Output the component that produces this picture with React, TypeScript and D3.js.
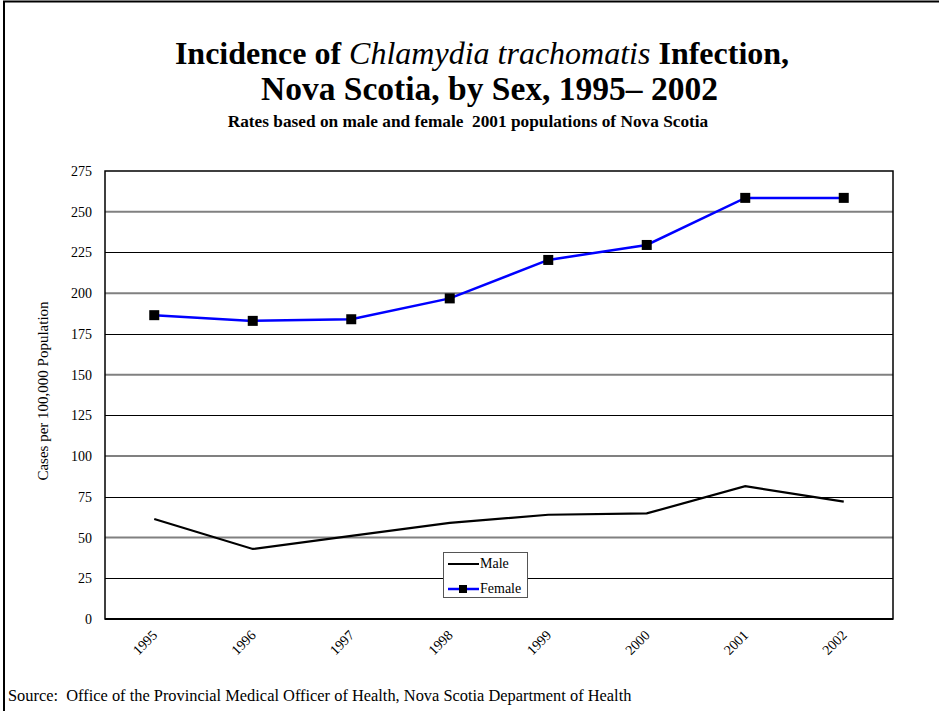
import React from "react";
import * as d3 from "d3";

const years = ["1995", "1996", "1997", "1998", "1999", "2000", "2001", "2002"];
const male = [61.4, 43, 51, 59, 64, 64.8, 81.5, 72];
const female = [186.5, 183, 184, 196.8, 220.4, 229.6, 258.5, 258.5];
const yTicks = [0, 25, 50, 75, 100, 125, 150, 175, 200, 225, 250, 275];

const W = 939;
const H = 711;
const plot = { left: 105, right: 893, top: 171, bottom: 619 };
const FONT = "Liberation Serif, Times New Roman, serif";

export default function App() {
  const x = d3.scalePoint<string>().domain(years).range([plot.left, plot.right]).padding(0.5);
  const y = d3.scaleLinear().domain([0, 275]).range([plot.bottom, plot.top]);
  const line = d3
    .line<number>()
    .x((_, i) => x(years[i]) as number)
    .y((d) => y(d));

  return (
    <svg
      width={W}
      height={H}
      style={{ position: "absolute", left: 0, top: 0, background: "#fff" }}
      fontFamily={FONT}
    >
      <rect x={0} y={0} width={W} height={H} fill="#fff" />
      <rect x={4} y={1.5} width={W + 20} height={H + 20} fill="none" stroke="#000" strokeWidth={2} />

      <text x={482} y={64} textAnchor="middle" fontSize={32} fontWeight="bold">
        Incidence of <tspan fontStyle="italic" fontWeight="normal">Chlamydia trachomatis</tspan> Infection,
      </text>
      <text x={489.5} y={100} textAnchor="middle" fontSize={33.5} fontWeight="bold">
        Nova Scotia, by Sex, 1995– 2002
      </text>
      <text x={468} y={127} textAnchor="middle" fontSize={17.3} fontWeight="bold" xmlSpace="preserve">
        Rates based on male and female  2001 populations of Nova Scotia
      </text>

      {yTicks.slice(1, -1).map((t, i) => {
        const k = i + 1;
        const even = k % 2 === 0;
        const yy = even ? y(t) : Math.round(y(t)) + 0.5;
        return (
          <line
            key={t}
            x1={plot.left}
            x2={plot.right}
            y1={yy}
            y2={yy}
            stroke={even ? "#808080" : "#000"}
            strokeWidth={even ? 2 : 1}
          />
        );
      })}
      <rect
        x={plot.left}
        y={plot.top}
        width={plot.right - plot.left}
        height={plot.bottom - plot.top}
        fill="none"
        stroke="#000"
        strokeWidth={1.5}
      />
      <line x1={plot.left} x2={plot.right} y1={plot.bottom} y2={plot.bottom} stroke="#000" strokeWidth={2} />

      {yTicks.map((t) => (
        <text key={t} x={92} y={y(t) + 5} textAnchor="end" fontSize={14}>
          {t}
        </text>
      ))}
      <text
        transform={`translate(48,${(plot.top + plot.bottom) / 2 - 4}) rotate(-90)`}
        textAnchor="middle"
        fontSize={15}
      >
        Cases per 100,000 Population
      </text>

      {years.map((yr) => (
        <text
          key={yr}
          transform={`translate(${(x(yr) as number) + 4},${636}) rotate(-45)`}
          textAnchor="end"
          fontSize={14}
        >
          {yr}
        </text>
      ))}

      <path d={line(male) || ""} fill="none" stroke="#000" strokeWidth={2.2} />
      <path d={line(female) || ""} fill="none" stroke="#0000ff" strokeWidth={2.5} />
      {female.map((v, i) => (
        <rect key={i} x={(x(years[i]) as number) - 5} y={y(v) - 5} width={10} height={10} fill="#000" />
      ))}

      <g>
        <rect x={443.5} y={552.5} width={84} height={45} fill="#fff" stroke="#555" strokeWidth={1} />
        <line x1={448} x2={479} y1={564} y2={564} stroke="#000" strokeWidth={2} />
        <text x={480} y={568} fontSize={14}>Male</text>
        <line x1={448} x2={479} y1={589} y2={589} stroke="#0000ff" strokeWidth={2.5} />
        <rect x={459} y={585} width={8} height={8} fill="#000" />
        <text x={480} y={593} fontSize={14}>Female</text>
      </g>

      <text x={8} y={701} fontSize={16.4} xmlSpace="preserve">
        Source:  Office of the Provincial Medical Officer of Health, Nova Scotia Department of Health
      </text>
    </svg>
  );
}
